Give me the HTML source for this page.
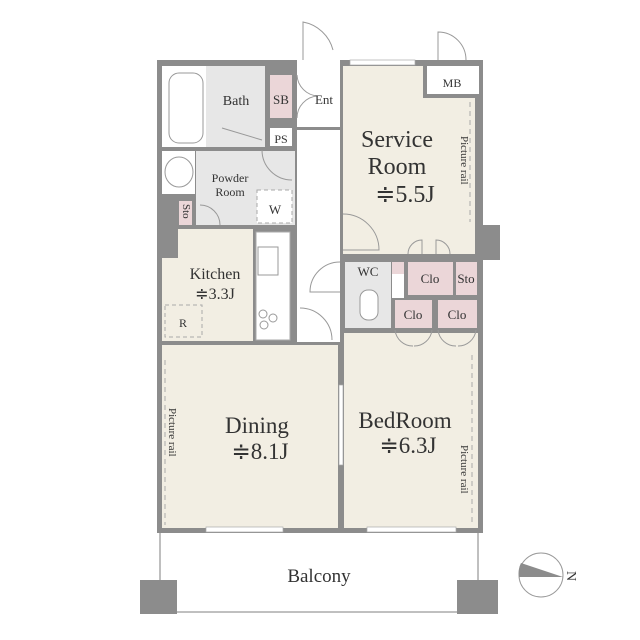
<!DOCTYPE html>
<html><head><meta charset="utf-8"><style>
html,body{margin:0;padding:0;background:#fff;width:640px;height:640px;overflow:hidden}
svg{display:block}
text{font-family:"Liberation Serif",serif;fill:#333}
</style></head><body>
<svg width="640" height="640" viewBox="0 0 640 640" xmlns="http://www.w3.org/2000/svg">
<rect x="160" y="530" width="318" height="82" fill="#fff" stroke="#aaa" stroke-width="1.5"/>
<rect x="140" y="580" width="37" height="34" fill="#8c8c8c"/>
<rect x="457" y="580" width="41" height="34" fill="#8c8c8c"/>
<text x="319" y="582" font-size="19" text-anchor="middle">Balcony</text>

<rect x="157" y="60" width="326" height="473" fill="#8c8c8c"/>
<rect x="297" y="60" width="43" height="6" fill="#fff"/>
<rect x="343" y="66" width="132" height="188" fill="#f2eee3"/>
<rect x="423" y="66" width="52" height="32" fill="#8c8c8c"/>
<rect x="427" y="66" width="52" height="28" fill="#fff"/>
<rect x="162" y="345" width="176" height="183" fill="#f2eee3"/>
<rect x="344" y="333" width="134" height="195" fill="#f2eee3"/>
<rect x="178" y="229" width="75" height="112" fill="#f2eee3"/>
<rect x="162" y="258" width="20" height="83" fill="#f2eee3"/>
<rect x="256" y="232" width="34" height="108" fill="#fff" stroke="#aaa"/>
<rect x="258" y="247" width="20" height="28" fill="#fff" stroke="#999"/>
<circle cx="263" cy="314" r="4" fill="none" stroke="#999"/><circle cx="273" cy="318" r="4" fill="none" stroke="#999"/><circle cx="264" cy="325" r="4" fill="none" stroke="#999"/>
<rect x="165" y="305" width="37" height="32" fill="none" stroke="#aaa" stroke-dasharray="4 3"/>
<rect x="162" y="66" width="103" height="81" fill="#e7e7e7"/>
<rect x="162" y="66" width="44" height="81" fill="#fff"/>
<rect x="169" y="73" width="34" height="70" rx="10" fill="none" stroke="#999"/>
<rect x="270" y="75" width="22" height="43" fill="#ebd6d8"/>
<rect x="270" y="128" width="22" height="18" fill="#fff"/>
<rect x="297" y="66" width="43" height="61" fill="#fff"/>
<rect x="297" y="130" width="43" height="212" fill="#fff"/>
<rect x="196" y="151" width="99" height="74" fill="#e7e7e7"/>
<rect x="162" y="151" width="33" height="43" fill="#fff"/>
<ellipse cx="179" cy="172" rx="14" ry="15" fill="none" stroke="#999"/>
<rect x="257" y="190" width="35" height="33" fill="#fff" stroke="#aaa" stroke-dasharray="4 3"/>
<rect x="179" y="201" width="13" height="24" fill="#ebd6d8"/>
<rect x="345" y="262" width="46" height="66" fill="#e7e7e7"/>
<rect x="360" y="290" width="18" height="30" rx="8" fill="#fff" stroke="#999"/>
<rect x="392" y="262" width="12" height="36" fill="#fff"/>
<rect x="392" y="262" width="12" height="12" fill="#ebd6d8"/>
<rect x="408" y="262" width="45" height="33" fill="#ebd6d8"/>
<rect x="456" y="262" width="21" height="33" fill="#ebd6d8"/>
<rect x="395" y="300" width="37" height="28" fill="#ebd6d8"/>
<rect x="438" y="300" width="39" height="28" fill="#ebd6d8"/>
<rect x="475" y="225" width="25" height="35" fill="#8c8c8c"/>
<rect x="350" y="60" width="65" height="5" fill="#fff" stroke="#aaa" stroke-width=".7"/>
<rect x="206" y="527" width="77" height="5" fill="#fff" stroke="#aaa" stroke-width=".7"/>
<rect x="367" y="527" width="89" height="5" fill="#fff" stroke="#aaa" stroke-width=".7"/>
<rect x="339" y="385" width="4" height="80" fill="#fff" stroke="#aaa" stroke-width=".7"/>
<g fill="none" stroke="#999" stroke-width="1">
<path d="M303 60 V22 A38 38 0 0 1 333 50"/><path d="M438 60 V32 A28 28 0 0 1 466 60"/>
<path d="M297 75 A22 22 0 0 0 318 96 M297 118 A22 22 0 0 1 318 96"/>
<path d="M343 214 A36 36 0 0 1 379 250 H343"/><path d="M340 262 A30 30 0 0 0 310 292 H340"/>
<path d="M300 308 A32 32 0 0 1 332 340"/><path d="M262 150 A30 30 0 0 0 292 180"/>
<path d="M200 205 A20 20 0 0 1 220 225"/>
<path d="M408 254 A14 14 0 0 1 422 240 V254 M450 254 A14 14 0 0 0 436 240 V254"/>
<path d="M395 330 A18 18 0 0 0 413 346 M432 330 A18 18 0 0 1 414 346 M438 330 A18 18 0 0 0 456 346 M476 330 A18 18 0 0 1 458 346"/>
<path d="M222 128 L262 140"/>
</g>
<g stroke="#aaa" stroke-dasharray="5 4" fill="none"><path d="M470 102 V222"/><path d="M165 360 V525"/><path d="M472 355 V525"/></g>
<text x="236" y="105" font-size="14" text-anchor="middle">Bath</text>
<text x="281" y="104" font-size="13" text-anchor="middle">SB</text>
<text x="324" y="104" font-size="13" text-anchor="middle">Ent</text>
<text x="281" y="143" font-size="12" text-anchor="middle">PS</text>
<text x="452" y="87" font-size="12" text-anchor="middle">MB</text>
<text x="230" y="182" font-size="12" text-anchor="middle">Powder</text>
<text x="230" y="196" font-size="12" text-anchor="middle">Room</text>
<text x="275" y="214" font-size="13" text-anchor="middle" fill="#999">W</text>
<text x="183" y="204" font-size="11" transform="rotate(90 183 204)">Sto</text>
<text x="215" y="279" font-size="16" text-anchor="middle">Kitchen</text>
<text x="215" y="299" font-size="16" text-anchor="middle">≑3.3J</text>
<text x="183" y="327" font-size="12" text-anchor="middle" fill="#999">R</text>
<text x="397" y="147" font-size="24" text-anchor="middle">Service</text>
<text x="397" y="174" font-size="24" text-anchor="middle">Room</text>
<text x="405" y="202" font-size="24" text-anchor="middle">≑5.5J</text>
<text x="461" y="136" font-size="11" transform="rotate(90 461 136)">Picture rail</text>
<text x="368" y="276" font-size="13" text-anchor="middle">WC</text>
<text x="430" y="283" font-size="13" text-anchor="middle">Clo</text>
<text x="466" y="283" font-size="13" text-anchor="middle">Sto</text>
<text x="413" y="319" font-size="13" text-anchor="middle">Clo</text>
<text x="457" y="319" font-size="13" text-anchor="middle">Clo</text>
<text x="257" y="433" font-size="23" text-anchor="middle">Dining</text>
<text x="260" y="459" font-size="23" text-anchor="middle">≑8.1J</text>
<text x="405" y="428" font-size="23" text-anchor="middle">BedRoom</text>
<text x="408" y="453" font-size="23" text-anchor="middle">≑6.3J</text>
<text x="169" y="408" font-size="11" transform="rotate(90 169 408)">Picture rail</text>
<text x="461" y="445" font-size="11" transform="rotate(90 461 445)">Picture rail</text>
<circle cx="541" cy="575" r="22" fill="#fff" stroke="#999"/>
<path d="M521 563 L563 577 L519 577 A22 22 0 0 1 521 563 Z" fill="#8c8c8c"/>
<text x="567" y="571" font-size="14" transform="rotate(90 567 571)">N</text>
</svg>
</body></html>
